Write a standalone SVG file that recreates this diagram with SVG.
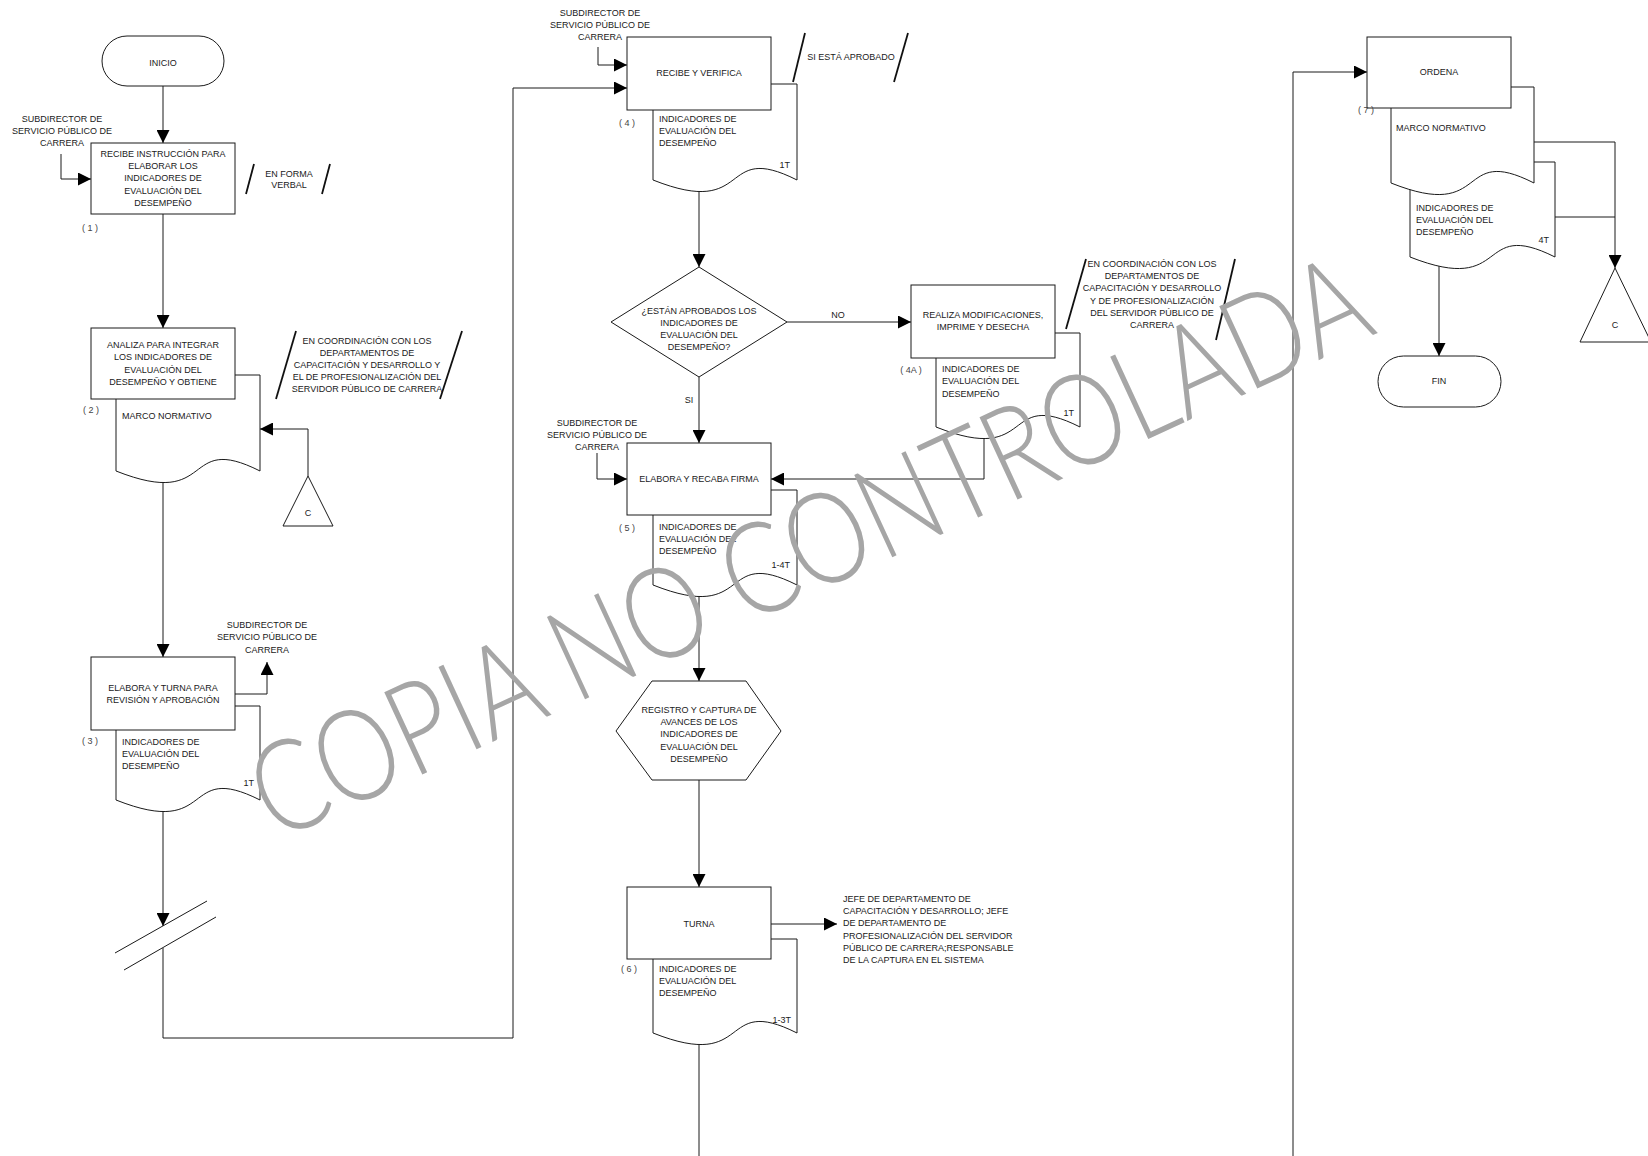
<svg xmlns="http://www.w3.org/2000/svg" width="1648" height="1156" viewBox="0 0 1648 1156">
<defs>
<style>
.t{font-family:'Liberation Sans',Arial,sans-serif;font-size:9px;fill:#1a1a1a}
.c{text-anchor:middle}
.e{text-anchor:end}
.num{font-family:'Liberation Sans',Arial,sans-serif;font-size:9px;fill:#444;text-anchor:middle}
.shape{fill:#fff;stroke:#1a1a1a;stroke-width:1}
.conn{fill:none;stroke:#1a1a1a;stroke-width:1}
.slash{stroke:#111;stroke-width:1.8}
.brk{stroke:#1a1a1a;stroke-width:1}
.wm{font-family:Lato,'Open Sans','Liberation Sans',sans-serif;font-weight:300;font-size:128px;fill:#a6a6a6}
</style>
<marker id="arr" viewBox="0 0 13 13" refX="13" refY="6.5" markerWidth="13" markerHeight="13" markerUnits="userSpaceOnUse" orient="auto">
<path d="M0,0 L13,6.5 L0,13 Z" fill="#000"/>
</marker>
</defs>
<rect x="0" y="0" width="1648" height="1156" fill="#fff"/>

<g id="connectors">
<path class="conn" d="M163,86 V143" marker-end="url(#arr)"/>
<path class="conn" d="M61,154 V179 H91" marker-end="url(#arr)"/>
<path class="conn" d="M163,214 V328" marker-end="url(#arr)"/>
<path class="conn" d="M308,476 V429 H260" marker-end="url(#arr)"/>
<path class="conn" d="M163,478 V657" marker-end="url(#arr)"/>
<path class="conn" d="M235,694 H267 V662" marker-end="url(#arr)"/>
<path class="conn" d="M163,805 V926" marker-end="url(#arr)"/>
<path class="conn" d="M163,948 V1038 H513 V88 H627" marker-end="url(#arr)"/>
<path class="conn" d="M598,47 V65 H627" marker-end="url(#arr)"/>
<path class="conn" d="M699,188 V267" marker-end="url(#arr)"/>
<path class="conn" d="M787,322 H911" marker-end="url(#arr)"/>
<path class="conn" d="M699,377 V443" marker-end="url(#arr)"/>
<path class="conn" d="M597,453 V479 H627" marker-end="url(#arr)"/>
<path class="conn" d="M984,436 V479 H771" marker-end="url(#arr)"/>
<path class="conn" d="M699,592 V681" marker-end="url(#arr)"/>
<path class="conn" d="M699,780 V887" marker-end="url(#arr)"/>
<path class="conn" d="M771,924 H837" marker-end="url(#arr)"/>
<path class="conn" d="M699,1040 V1156"/>
<path class="conn" d="M1293,1156 V72 H1367" marker-end="url(#arr)"/>
<path class="conn" d="M1534,142 H1615 V268" marker-end="url(#arr)"/>
<path class="conn" d="M1555,217 H1615"/>
<path class="conn" d="M1439,265 V356" marker-end="url(#arr)"/>
<line class="brk" x1="115" y1="953" x2="207" y2="901"/>
<line class="brk" x1="124" y1="970" x2="216" y2="917"/>
<text class="t c" x="838" y="318">NO</text>
<text class="t c" x="689" y="403">SI</text>
</g>

<g id="inicio">
<rect class="shape" x="102" y="36" width="122" height="50" rx="25"/>
<text class="t c" x="163" y="66">INICIO</text>
</g>

<g id="label-sub1">
<text class="t c" x="62" y="122">SUBDIRECTOR DE<tspan x="62" dy="12">SERVICIO PÚBLICO DE</tspan><tspan x="62" dy="12">CARRERA</tspan></text>
</g>

<g id="step1">
<rect class="shape" x="91" y="143" width="144" height="71"/>
<text class="t c" x="163" y="157">RECIBE INSTRUCCIÓN PARA<tspan x="163" dy="12.2">ELABORAR LOS</tspan><tspan x="163" dy="12.2">INDICADORES DE</tspan><tspan x="163" dy="12.2">EVALUACIÓN DEL</tspan><tspan x="163" dy="12.2">DESEMPEÑO</tspan></text>
<text class="num" x="90" y="231">( 1 )</text>
</g>

<g id="note1">
<line class="slash" x1="246" y1="194" x2="254" y2="164"/>
<line class="slash" x1="322" y1="194" x2="330" y2="164"/>
<text class="t c" x="289" y="177">EN FORMA<tspan x="289" dy="11">VERBAL</tspan></text>
</g>

<g id="step2">
<path class="shape" d="M116,375 H260 V471 C180.8,431 216.8,511 116,471 Z"/>
<rect class="shape" x="91" y="328" width="144" height="71"/>
<text class="t c" x="163" y="348">ANALIZA PARA INTEGRAR<tspan x="163" dy="12.3">LOS INDICADORES DE</tspan><tspan x="163" dy="12.3">EVALUACIÓN DEL</tspan><tspan x="163" dy="12.3">DESEMPEÑO Y OBTIENE</tspan></text>
<text class="t" x="122" y="419">MARCO NORMATIVO</text>
<text class="num" x="91" y="413">( 2 )</text>
</g>

<g id="note2">
<line class="slash" x1="276" y1="399" x2="296" y2="331"/>
<line class="slash" x1="440" y1="399" x2="462" y2="331"/>
<text class="t c" x="367" y="344">EN COORDINACIÓN CON LOS<tspan x="367" dy="12">DEPARTAMENTOS DE</tspan><tspan x="367" dy="12">CAPACITACIÓN Y DESARROLLO Y</tspan><tspan x="367" dy="12">EL DE PROFESIONALIZACIÓN DEL</tspan><tspan x="367" dy="12">SERVIDOR PÚBLICO DE CARRERA</tspan></text>
</g>

<g id="connector-c1">
<path class="shape" d="M308,476 L333,526 L283,526 Z"/>
<text class="t c" x="308" y="516">C</text>
</g>

<g id="step3">
<path class="shape" d="M116,706 H260 V800 C180.8,760 216.8,840 116,800 Z"/>
<rect class="shape" x="91" y="657" width="144" height="73"/>
<text class="t c" x="163" y="691">ELABORA Y TURNA PARA<tspan x="163" dy="12">REVISIÓN Y APROBACIÓN</tspan></text>
<text class="t" x="122" y="745">INDICADORES DE<tspan x="122" dy="12">EVALUACIÓN DEL</tspan><tspan x="122" dy="12">DESEMPEÑO</tspan></text>
<text class="t e" x="254" y="786">1T</text>
<text class="num" x="90" y="744">( 3 )</text>
</g>

<g id="label-sub3">
<text class="t c" x="267" y="628">SUBDIRECTOR DE<tspan x="267" dy="12.3">SERVICIO PÚBLICO DE</tspan><tspan x="267" dy="12.3">CARRERA</tspan></text>
</g>

<g id="label-sub4">
<text class="t c" x="600" y="16">SUBDIRECTOR DE<tspan x="600" dy="12">SERVICIO PÚBLICO DE</tspan><tspan x="600" dy="12">CARRERA</tspan></text>
</g>

<g id="step4">
<path class="shape" d="M653,84 H797 V180 C717.8,140 753.8,220 653,180 Z"/>
<rect class="shape" x="627" y="37" width="144" height="73"/>
<text class="t c" x="699" y="76">RECIBE Y VERIFICA</text>
<text class="t" x="659" y="122">INDICADORES DE<tspan x="659" dy="12">EVALUACIÓN DEL</tspan><tspan x="659" dy="12">DESEMPEÑO</tspan></text>
<text class="t e" x="790" y="168">1T</text>
<text class="num" x="627" y="126">( 4 )</text>
</g>

<g id="note4">
<line class="slash" x1="793" y1="82" x2="805" y2="33"/>
<line class="slash" x1="894" y1="82" x2="908" y2="33"/>
<text class="t c" x="851" y="60">SI ESTÁ APROBADO</text>
</g>

<g id="decision">
<path class="shape" d="M699,267 L787,322 L699,377 L611,322 Z"/>
<text class="t c" x="699" y="314">¿ESTÁN APROBADOS LOS<tspan x="699" dy="12">INDICADORES DE</tspan><tspan x="699" dy="11.5">EVALUACIÓN DEL</tspan><tspan x="699" dy="12">DESEMPEÑO?</tspan></text>
</g>

<g id="step4a">
<path class="shape" d="M936,333 H1080 V427 C1000.8,387 1036.8,467 936,427 Z"/>
<rect class="shape" x="911" y="285" width="144" height="73"/>
<text class="t c" x="983" y="318">REALIZA MODIFICACIONES,<tspan x="983" dy="12">IMPRIME Y DESECHA</tspan></text>
<text class="t" x="942" y="372">INDICADORES DE<tspan x="942" dy="12.3">EVALUACIÓN DEL</tspan><tspan x="942" dy="12.3">DESEMPEÑO</tspan></text>
<text class="t e" x="1074" y="416">1T</text>
<text class="num" x="911" y="373">( 4A )</text>
</g>

<g id="note4a">
<line class="slash" x1="1066" y1="329" x2="1086" y2="259"/>
<line class="slash" x1="1216" y1="340" x2="1235" y2="259"/>
<text class="t c" x="1152" y="267">EN COORDINACIÓN CON LOS<tspan x="1152" dy="12.2">DEPARTAMENTOS DE</tspan><tspan x="1152" dy="12.2">CAPACITACIÓN Y DESARROLLO</tspan><tspan x="1152" dy="12.2">Y DE PROFESIONALIZACIÓN</tspan><tspan x="1152" dy="12.2">DEL SERVIDOR PÚBLICO DE</tspan><tspan x="1152" dy="12.2">CARRERA</tspan></text>
</g>

<g id="label-sub5">
<text class="t c" x="597" y="426">SUBDIRECTOR DE<tspan x="597" dy="12">SERVICIO PÚBLICO DE</tspan><tspan x="597" dy="12">CARRERA</tspan></text>
</g>

<g id="step5">
<path class="shape" d="M653,490 H797 V585 C717.8,545 753.8,625 653,585 Z"/>
<rect class="shape" x="627" y="443" width="144" height="72"/>
<text class="t c" x="699" y="482">ELABORA Y RECABA FIRMA</text>
<text class="t" x="659" y="530">INDICADORES DE<tspan x="659" dy="12">EVALUACIÓN DEL</tspan><tspan x="659" dy="12">DESEMPEÑO</tspan></text>
<text class="t e" x="790" y="568">1-4T</text>
<text class="num" x="627" y="531">( 5 )</text>
</g>

<g id="registro">
<path class="shape" d="M652,681 L746,681 L781,731 L746,780 L652,780 L616,731 Z"/>
<text class="t c" x="699" y="713">REGISTRO Y CAPTURA DE<tspan x="699" dy="12.2">AVANCES DE LOS</tspan><tspan x="699" dy="12.2">INDICADORES DE</tspan><tspan x="699" dy="12.2">EVALUACIÓN DEL</tspan><tspan x="699" dy="12.2">DESEMPEÑO</tspan></text>
</g>

<g id="step6">
<path class="shape" d="M653,939 H797 V1033 C717.8,993 753.8,1073 653,1033 Z"/>
<rect class="shape" x="627" y="887" width="144" height="72"/>
<text class="t c" x="699" y="927">TURNA</text>
<text class="t" x="659" y="972">INDICADORES DE<tspan x="659" dy="12">EVALUACIÓN DEL</tspan><tspan x="659" dy="12">DESEMPEÑO</tspan></text>
<text class="t e" x="791" y="1023">1-3T</text>
<text class="num" x="629" y="972">( 6 )</text>
</g>

<g id="label-jefe">
<text class="t" x="843" y="902">JEFE DE DEPARTAMENTO DE<tspan x="843" dy="12.2">CAPACITACIÓN Y DESARROLLO; JEFE</tspan><tspan x="843" dy="12.2">DE DEPARTAMENTO DE</tspan><tspan x="843" dy="12.2">PROFESIONALIZACIÓN DEL SERVIDOR</tspan><tspan x="843" dy="12.2">PÚBLICO DE CARRERA;RESPONSABLE</tspan><tspan x="843" dy="12.2">DE LA CAPTURA EN EL SISTEMA</tspan></text>
</g>

<g id="step7">
<path class="shape" d="M1410,162 H1555 V257 C1475.2,217 1511.5,297 1410,257 Z"/>
<path class="shape" d="M1391,87 H1534 V183 C1455.4,143 1491.1,223 1391,183 Z"/>
<rect class="shape" x="1367" y="37" width="144" height="71"/>
<text class="t c" x="1439" y="75">ORDENA</text>
<text class="t" x="1396" y="131">MARCO NORMATIVO</text>
<text class="t" x="1416" y="211">INDICADORES DE<tspan x="1416" dy="12">EVALUACIÓN DEL</tspan><tspan x="1416" dy="12">DESEMPEÑO</tspan></text>
<text class="t e" x="1549" y="243">4T</text>
<text class="num" x="1366" y="113">( 7 )</text>
</g>

<g id="connector-c2">
<path class="shape" d="M1615,268 L1651,342 L1580,342 Z"/>
<text class="t c" x="1615" y="328">C</text>
</g>

<g id="fin">
<rect class="shape" x="1378" y="356" width="123" height="51" rx="25.5"/>
<text class="t c" x="1439" y="384">FIN</text>
</g>

<g id="watermark">
<text class="wm" transform="translate(276,842) rotate(-24.8)" textLength="1215" lengthAdjust="spacingAndGlyphs">COPIA NO CONTROLADA</text>
</g>
</svg>
